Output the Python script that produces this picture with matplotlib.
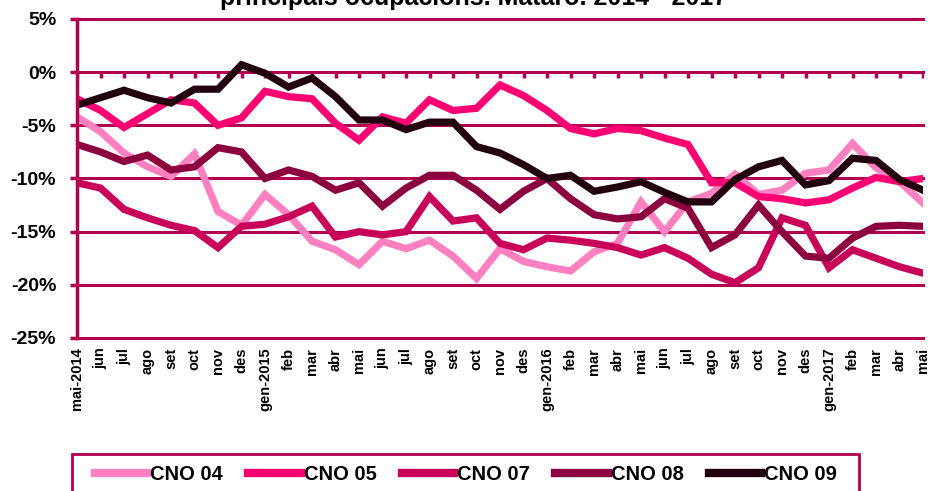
import numpy as np
import matplotlib
matplotlib.use('Agg')
import matplotlib.pyplot as plt
from matplotlib.patches import Rectangle

plt.rcParams['font.family'] = ['Liberation Sans', 'DejaVu Sans']
plt.rcParams['font.weight'] = 'bold'

# months mai-2014 .. mai-2017
months = ['mai-2014', 'jun', 'jul', 'ago', 'set', 'oct', 'nov', 'des',
          'gen-2015', 'feb', 'mar', 'abr', 'mai', 'jun', 'jul', 'ago', 'set',
          'oct', 'nov', 'des', 'gen-2016', 'feb', 'mar', 'abr', 'mai', 'jun',
          'jul', 'ago', 'set', 'oct', 'nov', 'des', 'gen-2017', 'feb', 'mar',
          'abr', 'mai']

# interannual variation (%)
cno04 = [-4.2, -5.6, -7.6, -8.9, -9.8, -7.7, -13.1, -14.4, -11.5, -13.4,
         -15.9, -16.7, -18.1, -15.9, -16.6, -15.8, -17.3, -19.4, -16.6, -17.8,
         -18.3, -18.7, -16.9, -16.1, -12.2, -15.0, -12.2, -11.4, -9.6, -11.5,
         -11.1, -9.5, -9.2, -6.7, -9.0, -10.3, -12.3]
cno05 = [-2.5, -3.6, -5.2, -3.9, -2.6, -2.9, -5.0, -4.3, -1.8, -2.3,
         -2.5, -4.8, -6.4, -4.2, -4.8, -2.6, -3.6, -3.4, -1.2, -2.2,
         -3.6, -5.3, -5.8, -5.3, -5.5, -6.2, -6.8, -10.4, -10.4, -11.7,
         -11.9, -12.3, -12.0, -10.9, -9.9, -10.3, -10.0]
cno07 = [-10.4, -10.9, -12.9, -13.7, -14.4, -14.9, -16.5, -14.5, -14.3, -13.6,
         -12.6, -15.5, -15.0, -15.3, -15.0, -11.7, -14.0, -13.7, -16.1, -16.7,
         -15.6, -15.8, -16.1, -16.5, -17.2, -16.5, -17.5, -19.0, -19.8, -18.4,
         -13.7, -14.4, -18.4, -16.7, -17.5, -18.3, -18.9]
cno08 = [-6.8, -7.5, -8.4, -7.8, -9.2, -8.9, -7.1, -7.5, -10.0, -9.2,
         -9.8, -11.1, -10.4, -12.6, -10.9, -9.7, -9.7, -11.1, -12.9, -11.2,
         -10.0, -11.9, -13.4, -13.8, -13.6, -11.9, -12.8, -16.5, -15.3, -12.5,
         -15.0, -17.3, -17.5, -15.6, -14.5, -14.4, -14.5]
cno09 = [-3.1, -2.4, -1.7, -2.4, -2.9, -1.6, -1.6, 0.7, -0.1, -1.4,
         -0.55, -2.3, -4.5, -4.5, -5.4, -4.7, -4.7, -7.0, -7.6, -8.7,
         -10.0, -9.7, -11.2, -10.8, -10.3, -11.3, -12.2, -12.2, -10.1, -8.9,
         -8.3, -10.6, -10.2, -8.1, -8.3, -10.1, -11.1]

series = [('CNO 04', cno04, '#ff80c0'),
          ('CNO 05', cno05, '#ff0073'),
          ('CNO 07', cno07, '#c8005a'),
          ('CNO 08', cno08, '#8c0040'),
          ('CNO 09', cno09, '#220010')]
yticks = [5, 0, -5, -10, -15, -20, -25]
axis_col = '#b0004f'

fig = plt.figure(figsize=(9.3, 4.91), dpi=100)
ax = fig.add_axes([77/930, 1-338/491, 846/930, 319/491])

x = np.arange(len(months))
for name, vals, col in series:
    ax.plot(x, vals, color=col, lw=5.2, label=name, solid_joinstyle='miter')

ax.set_xlim(0, len(months)-1)
ax.set_ylim(-25, 5)
ax.set_yticks(yticks)
ax.set_yticklabels(['%d%%' % v for v in yticks], fontsize=14, fontweight='bold')
ax.set_xticks(x)
ax.set_xticklabels(months, rotation=90, fontsize=10.5, fontweight='bold')
ax.tick_params(axis='x', length=0, pad=7)
ax.tick_params(axis='y', length=5, width=2.5, color=axis_col, pad=10)

ax.grid(axis='y', color=axis_col, lw=2.2)
for gl in ax.get_ygridlines():
    gl.set_clip_on(False)
ax.set_axisbelow(True)
for s in ['top', 'right', 'bottom']:
    ax.spines[s].set_visible(False)
ax.spines['left'].set_color(axis_col)
ax.spines['left'].set_linewidth(2.5)

# category axis crosses at 0%
ax.plot(x, np.zeros(len(x)), ls='none', marker=3, ms=4, mew=2.5,
        color=axis_col, zorder=1)

fig.text(474/930, 1-5/491, 'principals ocupacions. Mataró. 2014 - 2017',
         ha='center', va='baseline', fontsize=18, fontweight='bold')

leg = fig.legend(loc='center left', bbox_to_anchor=(95/930, 1-475/491),
                 ncol=5, frameon=False, fontsize=14.5, handlelength=2.6,
                 handletextpad=0.15, columnspacing=1.25, borderpad=0,
                 borderaxespad=0)
for h in leg.get_lines():
    h.set_linewidth(6)
fig.patches.append(Rectangle((72/930, -0.1), 787/930, 0.1 + 1-454/491,
                             transform=fig.transFigure, fill=False,
                             edgecolor=axis_col, lw=2))

fig.savefig('out.png', dpi=100)
